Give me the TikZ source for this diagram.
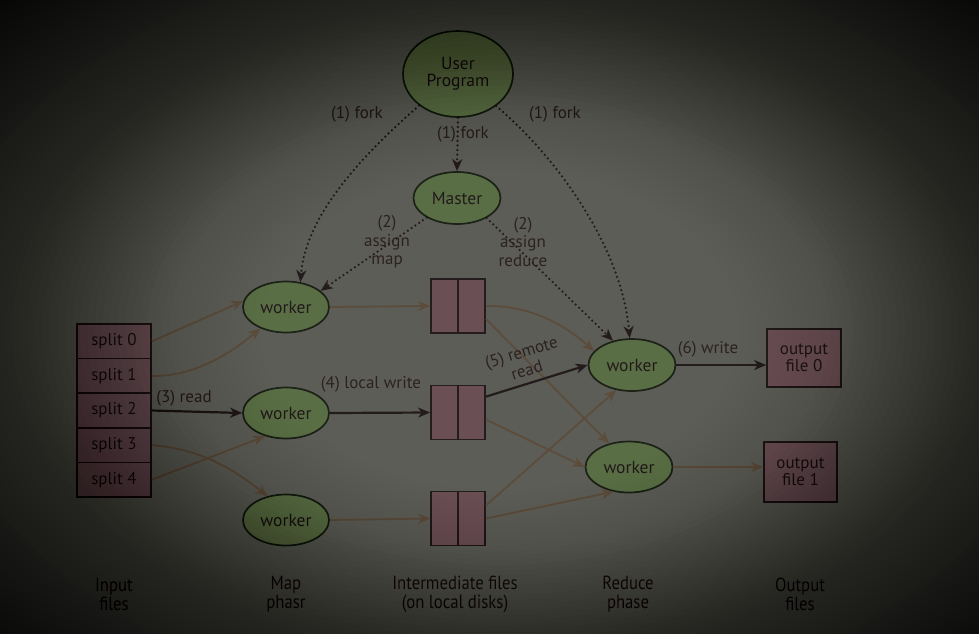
\documentclass[tikz,border=0pt]{standalone}
\usepackage{fontspec}
\setmainfont{PT Sans}
\usetikzlibrary{arrows.meta,shapes.geometric,calc}
\definecolor{bgc}{HTML}{5D5D57}
\definecolor{ellfill}{HTML}{5A6E46}
\definecolor{ellbd}{HTML}{1C2217}
\definecolor{rfill}{HTML}{6A5054}
\definecolor{rbd}{HTML}{241C1D}
\definecolor{txt}{HTML}{221A1A}
\definecolor{lbl}{HTML}{2B2121}
\definecolor{brn}{HTML}{5C4C3C}
\definecolor{drk}{HTML}{241C1C}
\tikzset{
  ell/.style={ellipse, draw=ellbd, fill=ellfill, line width=1.7pt, inner sep=0pt, text=txt, font=\fontsize{17.5}{17}\selectfont, align=center},
  rbox/.style={rectangle, draw=rbd, fill=rfill, line width=1.7pt, inner sep=0pt, text=txt, font=\fontsize{17}{17}\selectfont, align=center},
  tipa/.style={-{Stealth[length=12pt,width=10pt,inset=3.5pt]}},
  barr/.style={tipa, draw=brn, line width=1.8pt},
  darr/.style={tipa, draw=drk, line width=2.2pt},
  dotarr/.style={tipa, draw=drk, line width=2.5pt, dash pattern=on 0pt off 4.6pt, line cap=round},
  lab/.style={text=lbl, font=\fontsize{17}{18.5}\selectfont, align=center, inner sep=0pt},
  btm/.style={text=txt, font=\fontsize{19}{19}\selectfont, align=center, inner sep=0pt, xscale=0.88}
}
\begin{document}
\begin{tikzpicture}[x=1pt,y=-1pt]
\useasboundingbox (0,0) rectangle (979,633);
\begin{scope}
\clip (0,0) rectangle (979,633);
\fill[bgc] (-10,-10) rectangle (989,643);

% nodes
\node[ell, minimum width=110pt, minimum height=86pt] (up) at (458,74) {User\\Program};
\node[ell, minimum width=87pt, minimum height=52pt] (ms) at (457,198) {Master};
\node[ell, minimum width=86pt, minimum height=51pt] (m1) at (286,307) {worker};
\node[ell, minimum width=86pt, minimum height=51pt] (m2) at (286,413) {worker};
\node[ell, minimum width=86pt, minimum height=51pt] (m3) at (286,520) {worker};
\node[ell, minimum width=87pt, minimum height=52pt] (r1) at (632,365) {worker};
\node[ell, minimum width=87pt, minimum height=51pt] (r2) at (629,467) {worker};

\foreach \i/\y in {0/341.3,1/375.9,2/410.5,3/445.1,4/479.7}{
  \node[rbox, minimum width=74pt, minimum height=34.6pt] (s\i) at (114,\y) {split \i};
}
\foreach \i/\y in {1/306,2/412.5,3/518.5}{
  \node[rbox, minimum width=54pt, minimum height=54pt] (i\i) at (458,\y) {};
  \draw[draw=rbd, line width=1.7pt] (i\i.north) -- (i\i.south);
}
\node[rbox, minimum width=74pt, minimum height=58pt] (o0) at (804,358) {output\\file 0};
\node[rbox, minimum width=73pt, minimum height=60pt] (o1) at (800.5,472) {output\\file 1};

% forks
\draw[dotarr] (up.219) .. controls (345,170) and (305,225) .. (m1.60);
\draw[dotarr] (up.south) -- (ms.north);
\draw[dotarr] (up.-40) .. controls (560,160) and (622,250) .. (r1.95);
\node[lab] (fk1) at (357,114) {(1) fork};
\node[lab] (fk2) at (463,134) {(1) fork};
\node[lab] (fk3) at (555,114) {(1) fork};

% assign
\draw[dotarr] (ms.213) -- (m1.25);
\draw[dotarr] (ms.-34) -- (r1.128);
\node[lab] (am) at (387,242) {(2)\\assign\\map};
\node[lab] (ar) at (523,242) {(2)\\assign\\reduce};

% read
\draw[barr] (s0.east) -- (m1.172);
\draw[barr] (s1.east) .. controls (195,377) and (232,352) .. (m1.220);
\draw[darr] (s2.east) -- (m2.west);
\node[lab] (rd) at (184,398) {(3) read};
\draw[barr] (s3.east) .. controls (200,449) and (232,468) .. (m3.128);
\draw[barr] (s4.east) -- (m2.228);

% local write
\draw[barr] (m1.east) -- (i1.west);
\draw[darr] (m2.east) -- (i2.west);
\draw[barr] (m3.east) -- (i3.west);
\node[lab] (lw) at (371,384) {(4) local write};

% remote read
\draw[barr] (i1.east) .. controls (530,305) and (565,325) .. (r1.160);
\draw[barr] ([yshift=-13pt]i1.east) -- (r2.130);
\draw[darr] ([yshift=-12pt]i2.north east) -- (r1.west);
\node[lab, rotate=17] (rr) at (524,361) {(5) remote\\read};
\draw[barr] ([yshift=-7pt]i2.east) -- (r2.west);
\draw[barr] ([yshift=13pt]i3.east) -- (r1.238);
\draw[barr] (i3.east) -- (r2.238);

% write
\draw[darr] (r1.east) -- (o0.west |- r1.east);
\node[lab] (wr) at (708,349) {(6) write};
\draw[barr] (r2.east) -- (o1.west |- r2.east);

% bottom labels
\node[btm] (b1) at (114,594) {Input\\files};
\node[btm] (b2) at (286,594) {Map\\phasr};
\node[btm] (b3) at (455,594) {Intermediate files\\(on local disks)};
\node[btm] (b4) at (628,594) {Reduce\\phase};
\node[btm] (b5) at (800,594) {Output\\files};

% vignette over everything
\foreach \r in {0.4,0.4125,...,1.35}{
  \pgfmathsetmacro\kk{\r<0.5 ? 0.3 : (\r<0.6 ? 0.3+21*(\r-0.5) : (\r<0.9 ? 2.4 : min(5,2.4+13*(\r-0.9))))}
  \pgfmathsetmacro\aa{1-exp(-\kk*0.0125)}
  \fill[black, fill opacity=\aa, even odd rule] (-10,-10) rectangle (989,643) (500,330) ellipse [x radius=600*\r, y radius=400*\r];
}
\end{scope}
\end{tikzpicture}
\end{document}
